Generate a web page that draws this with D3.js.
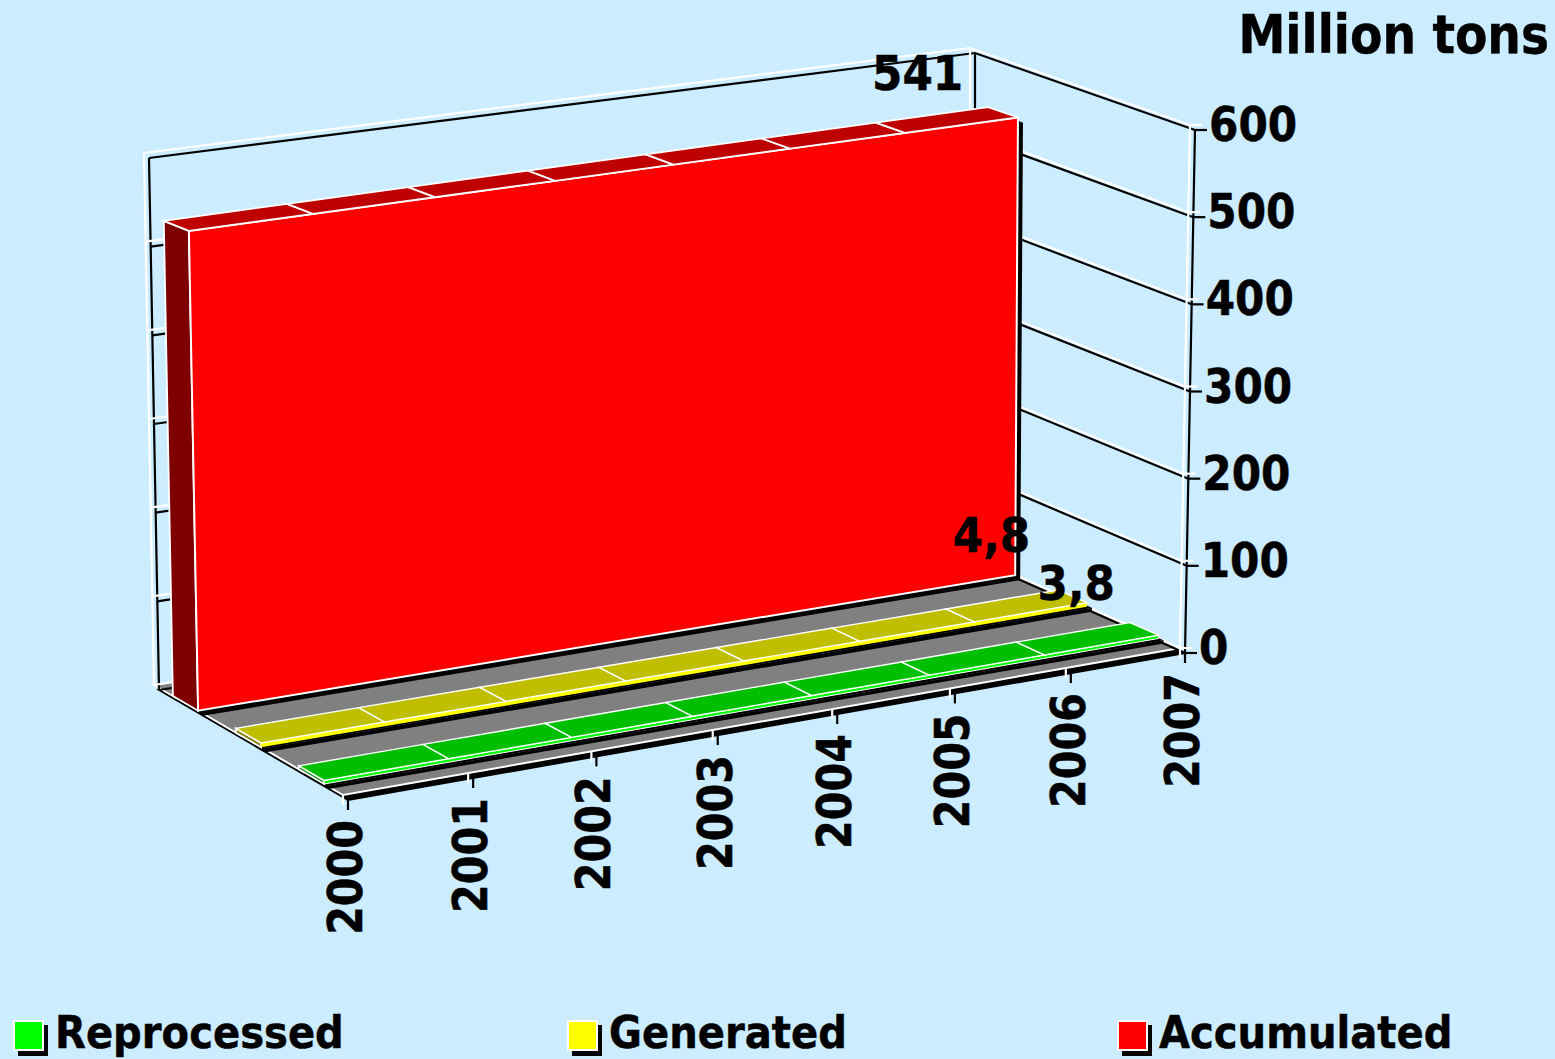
<!DOCTYPE html>
<html>
<head>
<meta charset="UTF-8">
<title>Million tons</title>
<style>
    body { margin: 0; padding: 0; background: #ccecff; }
    svg { display: block; }
    text { font-family: 'DejaVu Sans', sans-serif; font-weight: bold; fill: #000; stroke: #000; stroke-width: 0.5px; }
</style>
</head>
<body>
<svg></svg>
<script src="https://d3js.org/d3.v7.min.js"></script>
<script>

// data
const years = [2000, 2001, 2002, 2003, 2004, 2005, 2006, 2007];
const accumulated = [541, 541, 541, 541, 541, 541, 541, 541];
const generated = [4.8, 4.8, 4.8, 4.8, 4.8, 4.8, 4.8, 4.8];
const reprocessed = [3.8, 3.8, 3.8, 3.8, 3.8, 3.8, 3.8, 3.8];
const yTicks = [0, 100, 200, 300, 400, 500, 600];
const seriesNames = ["Accumulated", "Generated", "Reprocessed"];   // back to front
const legendOrder = ["Reprocessed", "Generated", "Accumulated"];

const w = 1555, h = 1059, shadow = 5;

const seriesValues = {Accumulated: accumulated, Generated: generated, Reprocessed: reprocessed};
const front = {Accumulated: "#ff0000", Generated: "#ffff00", Reprocessed: "#00ff00"};
const top_ = {Accumulated: "#bf0000", Generated: "#bfbf00", Reprocessed: "#00bf00"};
const side = {Accumulated: "#7f0000", Generated: "#7f7f00", Reprocessed: "#007f00"};
const frontStroke = {Accumulated: 2, Generated: 0, Reprocessed: 1};
const roofStroke = {Accumulated: 1.8, Generated: 1.4, Reprocessed: 1.4};
// label nudges from the back corner of the last point
const labelNudge = {Accumulated: [-25, -17], Generated: [-28, -38], Reprocessed: [-15, -23]};
const legendX = {Reprocessed: 13, Generated: 567, Accumulated: 1117};

// box corners on screen: floor back/front, then the same at the axis top
const wallBox = {
    floorBL: [154, 685], floorFL: [343, 795], floorBR: [970, 555], floorFR: [1180, 648],
    topBL: [144, 153], topFL: [330, 262], topBR: [970, 48], topFR: [1190, 125]
};
// the areas don't line up exactly with the walls in the original
const areaBox = {
    floorBL: [154, 685], floorFL: [343, 795], floorBR: [965, 553], floorFR: [1180, 648],
    topBL: [144, 162], topFL: [332, 233], topBR: [966, 50], topFR: [1190, 125]
};
const xPersp = 1.055;

let x = d3.scalePoint().domain(years).range([0, 1]);
let y = d3.scaleLinear().domain([0, 600]).range([0, 1]);
let z = d3.scaleBand().domain(seriesNames).range([0, 1]).paddingInner(0.6).paddingOuter(0.3);

const lerp = (a, b, t) => [a[0] + (b[0] - a[0]) * t, a[1] + (b[1] - a[1]) * t];

// u across, t up, v from back wall to front
function project(box, u, t, v) {
    let s = u * xPersp / ((1 - u) + u * xPersp);
    let bottom = lerp(lerp(box.floorBL, box.floorFL, v), lerp(box.floorBR, box.floorFR, v), s);
    let upper = lerp(lerp(box.topBL, box.topFL, v), lerp(box.topBR, box.topFR, v), s);
    return lerp(bottom, upper, t);
}
const pt = (year, value, v) => project(wallBox, x(year), y(value), v);
const apt = (year, value, v) => project(areaBox, x(year), y(value), v);
const poly = pts => "M" + pts.map(p => p.join(",")).join("L") + "Z";
const seg = pts => "M" + pts.map(p => p.join(",")).join("L");

let svg = d3.select("svg").attr("width", w).attr("height", h).attr("viewBox", `0 0 ${w} ${h}`);

// the original font is narrower and taller than anything installed, so squeeze it
function label(tx, ty, str, size, squeeze, anchor, rot) {
    return svg.append("text")
        .attr("transform", `translate(${tx},${ty}) rotate(${rot || 0}) scale(${squeeze},1)`)
        .attr("text-anchor", anchor || "start")
        .attr("font-size", size)
        .text(str);
}

const y0 = years[0], y1 = years[years.length - 1];

// floor
let floorD = poly([pt(y0, 0, 0), pt(y0, 0, 1), pt(y1, 0, 1), pt(y1, 0, 0)]);
svg.append("path").attr("d", floorD).attr("transform", `translate(${shadow},${shadow})`)
    .attr("fill", "#000").attr("stroke", "#000").attr("stroke-width", 2);
svg.append("path").attr("d", floorD)
    .attr("fill", "#808080").attr("stroke", "#fff").attr("stroke-width", 2);

// walls and gridlines
let walls = svg.append("g");
let wallPaths = [];
yTicks.forEach(t => {
    wallPaths.push(seg([pt(y0, t, 0), pt(y1, t, 0), pt(y1, t, 1)]));
    // tick past the front corner
    let p = pt(y1, t, 1);
    wallPaths.push(seg([p, [p[0] + 12, p[1]]]));
});
wallPaths.push(seg([pt(y0, 0, 0), pt(y0, 600, 0)]));
wallPaths.push(seg([pt(y1, 0, 0), pt(y1, 600, 0)]));
wallPaths.push(seg([pt(y1, 0, 1), pt(y1, 600, 1)]));
years.forEach(yr => {
    let p = pt(yr, 0, 1);
    wallPaths.push(seg([p, [p[0], p[1] + 10]]));
});
wallPaths.forEach(d => walls.append("path").attr("d", d)
    .attr("transform", `translate(${shadow},${shadow})`)
    .attr("fill", "none").attr("stroke", "#000").attr("stroke-width", 2.2));
wallPaths.forEach(d => walls.append("path").attr("d", d)
    .attr("fill", "none").attr("stroke", "#fff").attr("stroke-width", 2.2));

// areas, back to front
seriesNames.forEach(name => {
    let vals = seriesValues[name];
    let zb = z(name), zf = zb + z.bandwidth();
    let g = svg.append("g").attr("class", "series");

    let frontPts = years.map((yr, i) => apt(yr, vals[i], zf))
        .concat([apt(y1, 0, zf), apt(y0, 0, zf)]);
    let sidePts = [apt(y0, 0, zb), apt(y0, vals[0], zb), apt(y0, vals[0], zf), apt(y0, 0, zf)];
    let topQuads = d3.pairs(years.map((yr, i) => [yr, vals[i]])).map(([a, b]) =>
        [apt(a[0], a[1], zb), apt(b[0], b[1], zb), apt(b[0], b[1], zf), apt(a[0], a[1], zf)]);

    let all = [sidePts].concat(topQuads, [frontPts]);
    g.selectAll("path.drop").data(all).enter().append("path").attr("class", "drop")
        .attr("d", poly).attr("fill", "#000")
        .attr("transform", `translate(${shadow},${shadow})`);

    g.append("path").attr("d", poly(sidePts)).attr("fill", side[name])
        .attr("stroke", "#fff").attr("stroke-width", 1.8);
    g.append("path").attr("d", poly(frontPts)).attr("fill", front[name])
        .attr("stroke", frontStroke[name] ? "#fff" : "none").attr("stroke-width", frontStroke[name]);
    g.selectAll("path.roof").data(topQuads).enter().append("path").attr("class", "roof")
        .attr("d", poly).attr("fill", top_[name])
        .attr("stroke", "#fff").attr("stroke-width", roofStroke[name]);
});

// value labels on the last year
seriesNames.forEach(name => {
    let vals = seriesValues[name];
    let v = vals[vals.length - 1];
    let p = apt(y1, v, z(name));
    label(p[0] + labelNudge[name][0], p[1] + labelNudge[name][1],
        String(v).replace(".", ","), 48, 0.91, "end");
});

// y axis labels
yTicks.forEach(t => {
    let p = pt(y1, t, 1);
    label(p[0] + 19, p[1] + 16, t, 48, 0.88);
});

// x axis labels
years.forEach(yr => {
    let p = pt(yr, 0, 1);
    label(p[0] + 19, p[1] + 25, yr, 48, 0.86, "end", -90);
});

label(1549, 53, "Million tons", 53, 0.89, "end");

// legend
legendOrder.forEach(name => {
    let lx = legendX[name];
    svg.append("rect").attr("x", lx + 5).attr("y", 1025).attr("width", 30).attr("height", 31)
        .attr("fill", "#000");
    svg.append("rect").attr("x", lx + 1).attr("y", 1021).attr("width", 29).attr("height", 29)
        .attr("fill", front[name]).attr("stroke", "#fff").attr("stroke-width", 2);
    label(lx + 42, 1048, name, 44, 0.912);
});

</script>
</body>
</html>
